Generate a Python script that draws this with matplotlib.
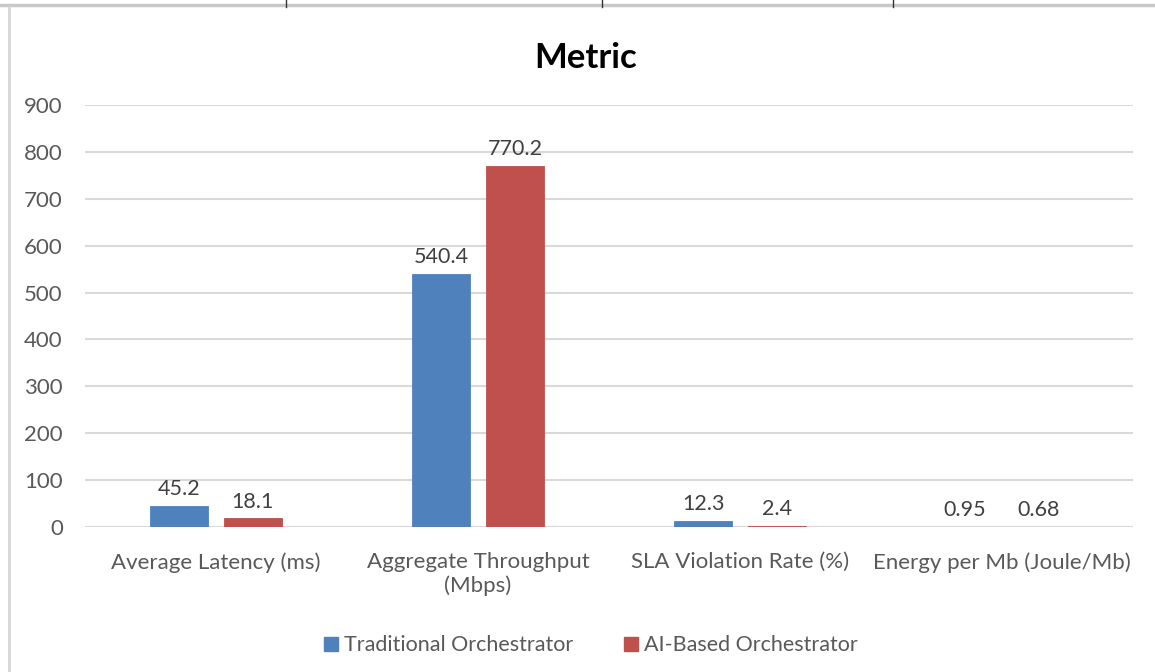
import numpy as np
import matplotlib.pyplot as plt
from matplotlib.lines import Line2D

plt.rcParams['font.family'] = ['Lato', 'DejaVu Sans']

# data
categories = ['Average Latency (ms)', 'Aggregate Throughput\n(Mbps)',
              'SLA Violation Rate (%)', 'Energy per Mb (Joule/Mb)']
traditional = [45.2, 540.4, 12.3, 0.95]
ai_based = [18.1, 770.2, 2.4, 0.68]
trad_labels = ['45.2', '540.4', '12.3', '0.95']
ai_labels = ['18.1', '770.2', '2.4', '0.68']
series_names = ['Traditional Orchestrator', 'AI-Based Orchestrator']

text_col = '#595959'
blue = '#4F81BD'
red = '#C0504D'

fig = plt.figure(figsize=(11.55, 6.72), dpi=100)
ax = fig.add_axes([0.0736, 0.2158, 0.9074, 0.628])

x = np.arange(len(categories))
w = 0.22
off = 0.141
b1 = ax.bar(x - off, traditional, w, color=blue, edgecolor=blue, linewidth=0.6,
            label=series_names[0], zorder=3)
b2 = ax.bar(x + off, ai_based, w, color=red, edgecolor=red, linewidth=0.6,
            label=series_names[1], zorder=3)

for bars, labels in [(b1, trad_labels), (b2, ai_labels)]:
    for rect, lab in zip(bars, labels):
        ax.annotate(lab, (rect.get_x() + rect.get_width() / 2, rect.get_height()),
                    xytext=(0, 5), textcoords='offset points', ha='center', va='bottom',
                    fontsize=15.5, color='#404040')

ax.set_xlim(-0.5, len(categories) - 0.5)
ax.set_ylim(0, 900)
ax.set_yticks(range(0, 901, 100))
ax.yaxis.grid(True, color='#d9d9d9', linewidth=1.5, zorder=0)
ax.set_axisbelow(True)
for s in ax.spines.values():
    s.set_visible(False)
ax.axhline(0, color='#d9d9d9', linewidth=1.5, zorder=1)
ax.tick_params(axis='both', length=0, labelsize=16, labelcolor=text_col)
ax.tick_params(axis='y', pad=16)
ax.tick_params(axis='x', pad=18)
ax.set_xticks(x)
ax.set_xticklabels(categories)

fig.text(0.507, 0.913, 'Metric', ha='center', va='center', fontsize=25,
         fontweight='bold', color='black')

handles = [Line2D([], [], marker='s', linestyle='none', markersize=10, color=blue),
           Line2D([], [], marker='s', linestyle='none', markersize=10, color=red)]
fig.legend(handles, series_names, loc='center', bbox_to_anchor=(0.51, 0.04), ncol=2,
           frameon=False, fontsize=15.5, labelcolor=text_col, handletextpad=0.1,
           columnspacing=2.2, handlelength=1.0)

# screenshot frame lines
fig.add_artist(Line2D([0, 1], [0.9925, 0.9925], color='#c8c8c8', linewidth=2.5))
fig.add_artist(Line2D([0.0078, 0.0078], [0, 0.99], color='#d6d6d6', linewidth=2))
for xt in [286 / 1155, 602 / 1155, 893 / 1155]:
    fig.add_artist(Line2D([xt, xt], [0.99, 1.0], color='#333333', linewidth=1))

fig.savefig('out.png', dpi=100)
